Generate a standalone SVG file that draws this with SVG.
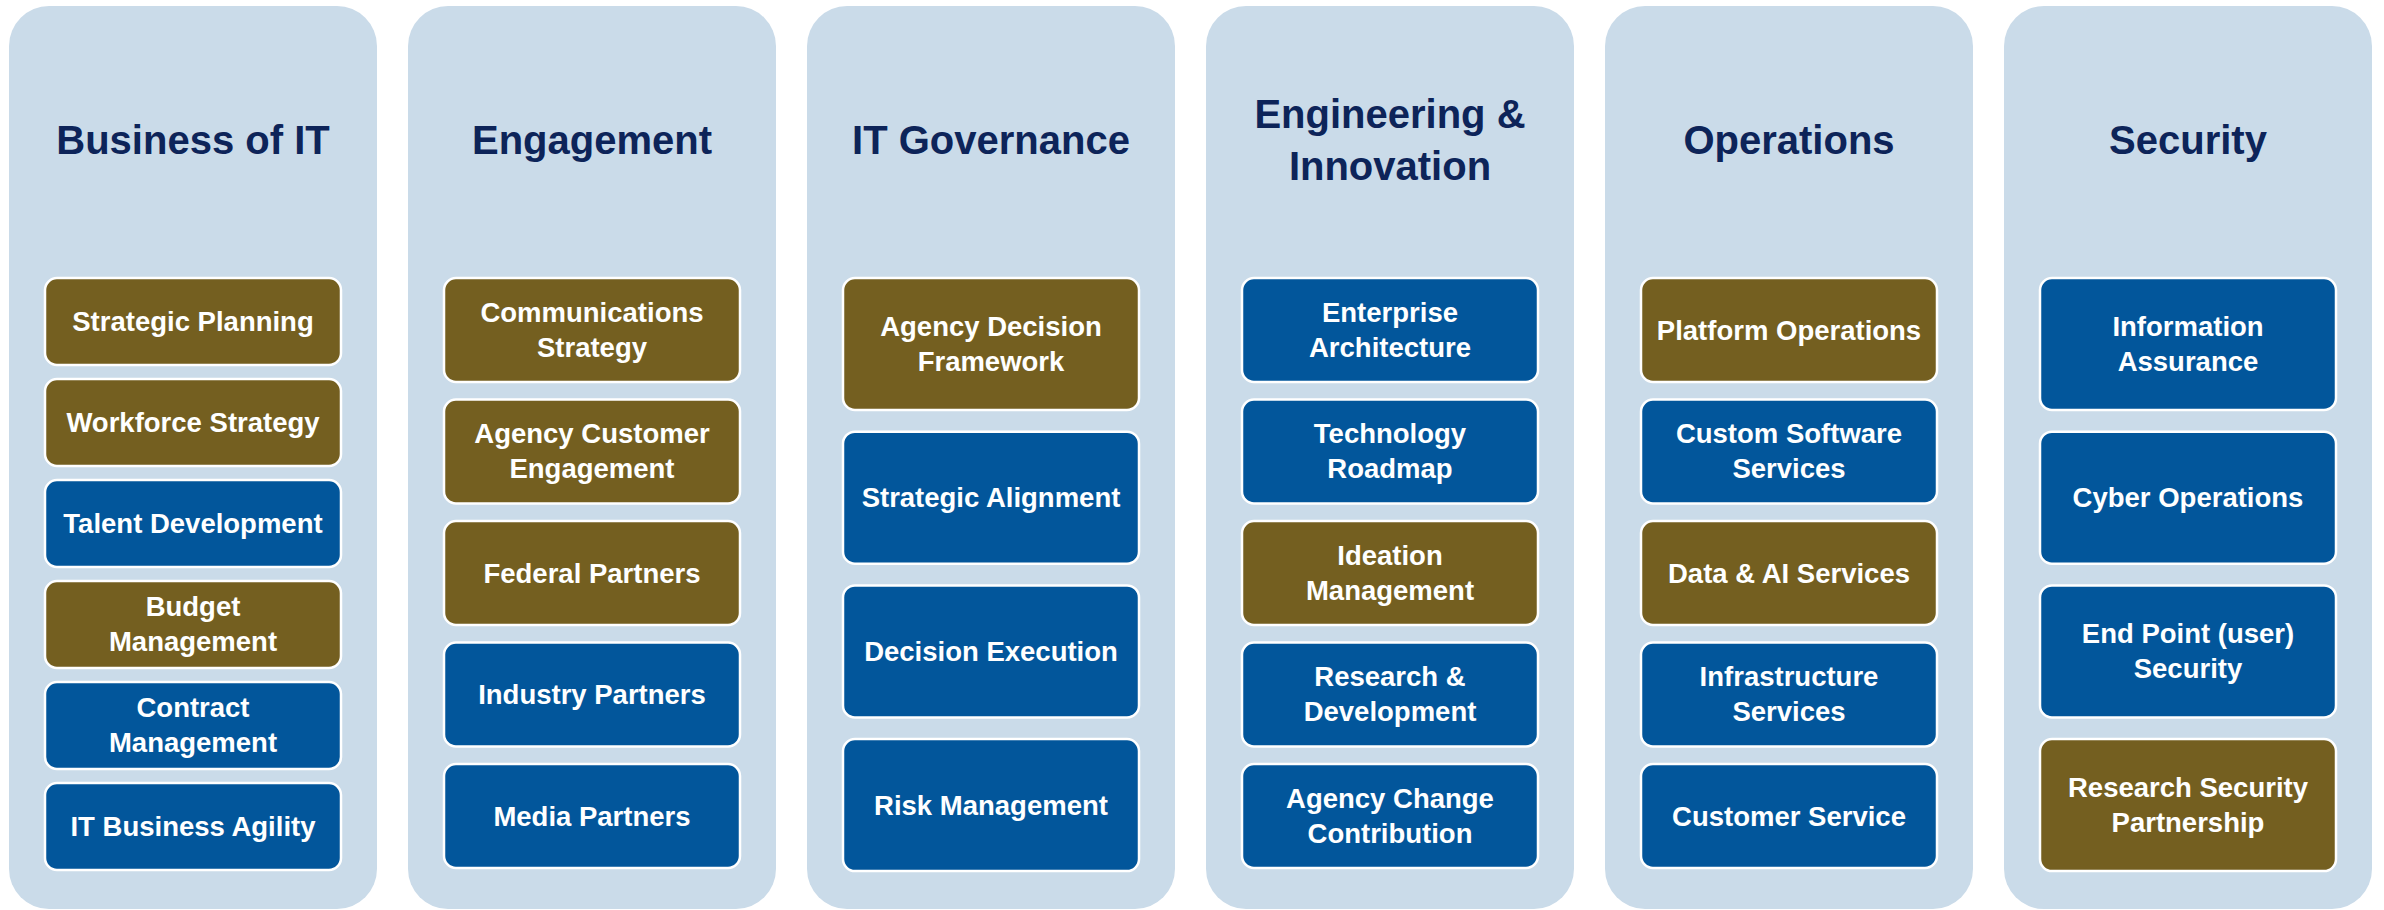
<svg xmlns="http://www.w3.org/2000/svg" width="2384" height="910" viewBox="0 0 2384 910">
<style>
.panel{fill:#CADBE9}
.title{font-family:"Liberation Sans",Arial,sans-serif;font-weight:bold;font-size:40px;fill:#0D2459;text-anchor:middle}
.ol{fill:#745F20;stroke:#FFFFFF;stroke-width:2.5}
.bl{fill:#02569B;stroke:#FFFFFF;stroke-width:2.5}
.lbl{font-family:"Liberation Sans",Arial,sans-serif;font-weight:bold;font-size:27.5px;fill:#FFFFFF;text-anchor:middle}
</style>
<rect width="2384" height="910" fill="#FFFFFF"/>
<g id="connectors"/>

<g id="col-business">
<rect class="panel" x="9" y="6" width="368" height="903" rx="40"/>
<text class="title" x="193" y="154">Business of IT</text>
<g id="n-strategic-planning"><rect class="ol" x="45" y="278" width="296" height="87" rx="12"/><text class="lbl" x="193" y="331">Strategic Planning</text></g>
<g id="n-workforce-strategy"><rect class="ol" x="45" y="379" width="296" height="87" rx="12"/><text class="lbl" x="193" y="432">Workforce Strategy</text></g>
<g id="n-talent-development"><rect class="bl" x="45" y="480" width="296" height="87" rx="12"/><text class="lbl" x="193" y="533">Talent Development</text></g>
<g id="n-budget-management"><rect class="ol" x="45" y="581" width="296" height="87" rx="12"/><text class="lbl" x="193" y="616">Budget</text><text class="lbl" x="193" y="651">Management</text></g>
<g id="n-contract-management"><rect class="bl" x="45" y="682" width="296" height="87" rx="12"/><text class="lbl" x="193" y="717">Contract</text><text class="lbl" x="193" y="752">Management</text></g>
<g id="n-it-business-agility"><rect class="bl" x="45" y="783" width="296" height="87" rx="12"/><text class="lbl" x="193" y="836">IT Business Agility</text></g>
</g>

<g id="col-engagement">
<rect class="panel" x="408" y="6" width="368" height="903" rx="40"/>
<text class="title" x="592" y="154">Engagement</text>
<g id="n-communications-strategy"><rect class="ol" x="444" y="278" width="296" height="104" rx="12"/><text class="lbl" x="592" y="321.5">Communications</text><text class="lbl" x="592" y="356.5">Strategy</text></g>
<g id="n-agency-customer-engagement"><rect class="ol" x="444" y="399.5" width="296" height="104" rx="12"/><text class="lbl" x="592" y="443">Agency Customer</text><text class="lbl" x="592" y="478">Engagement</text></g>
<g id="n-federal-partners"><rect class="ol" x="444" y="521" width="296" height="104" rx="12"/><text class="lbl" x="592" y="582.5">Federal Partners</text></g>
<g id="n-industry-partners"><rect class="bl" x="444" y="642.5" width="296" height="104" rx="12"/><text class="lbl" x="592" y="704">Industry Partners</text></g>
<g id="n-media-partners"><rect class="bl" x="444" y="764" width="296" height="104" rx="12"/><text class="lbl" x="592" y="825.5">Media Partners</text></g>
</g>

<g id="col-governance">
<rect class="panel" x="807" y="6" width="368" height="903" rx="40"/>
<text class="title" x="991" y="154">IT Governance</text>
<g id="n-agency-decision-framework"><rect class="ol" x="843" y="278" width="296" height="132" rx="12"/><text class="lbl" x="991" y="335.5">Agency Decision</text><text class="lbl" x="991" y="370.5">Framework</text></g>
<g id="n-strategic-alignment"><rect class="bl" x="843" y="431.7" width="296" height="132" rx="12"/><text class="lbl" x="991" y="507.2">Strategic Alignment</text></g>
<g id="n-decision-execution"><rect class="bl" x="843" y="585.4" width="296" height="132" rx="12"/><text class="lbl" x="991" y="661">Decision Execution</text></g>
<g id="n-risk-management"><rect class="bl" x="843" y="739.1" width="296" height="132" rx="12"/><text class="lbl" x="991" y="814.6">Risk Management</text></g>
</g>

<g id="col-engineering">
<rect class="panel" x="1206" y="6" width="368" height="903" rx="40"/>
<text class="title" x="1390" y="128">Engineering &amp;</text>
<text class="title" x="1390" y="180">Innovation</text>
<g id="n-enterprise-architecture"><rect class="bl" x="1242" y="278" width="296" height="104" rx="12"/><text class="lbl" x="1390" y="321.5">Enterprise</text><text class="lbl" x="1390" y="356.5">Architecture</text></g>
<g id="n-technology-roadmap"><rect class="bl" x="1242" y="399.5" width="296" height="104" rx="12"/><text class="lbl" x="1390" y="443">Technology</text><text class="lbl" x="1390" y="478">Roadmap</text></g>
<g id="n-ideation-management"><rect class="ol" x="1242" y="521" width="296" height="104" rx="12"/><text class="lbl" x="1390" y="564.5">Ideation</text><text class="lbl" x="1390" y="599.5">Management</text></g>
<g id="n-research-development"><rect class="bl" x="1242" y="642.5" width="296" height="104" rx="12"/><text class="lbl" x="1390" y="686">Research &amp;</text><text class="lbl" x="1390" y="721">Development</text></g>
<g id="n-agency-change-contribution"><rect class="bl" x="1242" y="764" width="296" height="104" rx="12"/><text class="lbl" x="1390" y="807.5">Agency Change</text><text class="lbl" x="1390" y="842.5">Contribution</text></g>
</g>

<g id="col-operations">
<rect class="panel" x="1605" y="6" width="368" height="903" rx="40"/>
<text class="title" x="1789" y="154">Operations</text>
<g id="n-platform-operations"><rect class="ol" x="1641" y="278" width="296" height="104" rx="12"/><text class="lbl" x="1789" y="339.5">Platform Operations</text></g>
<g id="n-custom-software-services"><rect class="bl" x="1641" y="399.5" width="296" height="104" rx="12"/><text class="lbl" x="1789" y="443">Custom Software</text><text class="lbl" x="1789" y="478">Services</text></g>
<g id="n-data-ai-services"><rect class="ol" x="1641" y="521" width="296" height="104" rx="12"/><text class="lbl" x="1789" y="582.5">Data &amp; AI Services</text></g>
<g id="n-infrastructure-services"><rect class="bl" x="1641" y="642.5" width="296" height="104" rx="12"/><text class="lbl" x="1789" y="686">Infrastructure</text><text class="lbl" x="1789" y="721">Services</text></g>
<g id="n-customer-service"><rect class="bl" x="1641" y="764" width="296" height="104" rx="12"/><text class="lbl" x="1789" y="825.5">Customer Service</text></g>
</g>

<g id="col-security">
<rect class="panel" x="2004" y="6" width="368" height="903" rx="40"/>
<text class="title" x="2188" y="154">Security</text>
<g id="n-information-assurance"><rect class="bl" x="2040" y="278" width="296" height="132" rx="12"/><text class="lbl" x="2188" y="335.5">Information</text><text class="lbl" x="2188" y="370.5">Assurance</text></g>
<g id="n-cyber-operations"><rect class="bl" x="2040" y="431.7" width="296" height="132" rx="12"/><text class="lbl" x="2188" y="507.2">Cyber Operations</text></g>
<g id="n-end-point-security"><rect class="bl" x="2040" y="585.4" width="296" height="132" rx="12"/><text class="lbl" x="2188" y="643">End Point (user)</text><text class="lbl" x="2188" y="678">Security</text></g>
<g id="n-research-security-partnership"><rect class="ol" x="2040" y="739.1" width="296" height="132" rx="12"/><text class="lbl" x="2188" y="796.6">Research Security</text><text class="lbl" x="2188" y="831.6">Partnership</text></g>
</g>
</svg>
